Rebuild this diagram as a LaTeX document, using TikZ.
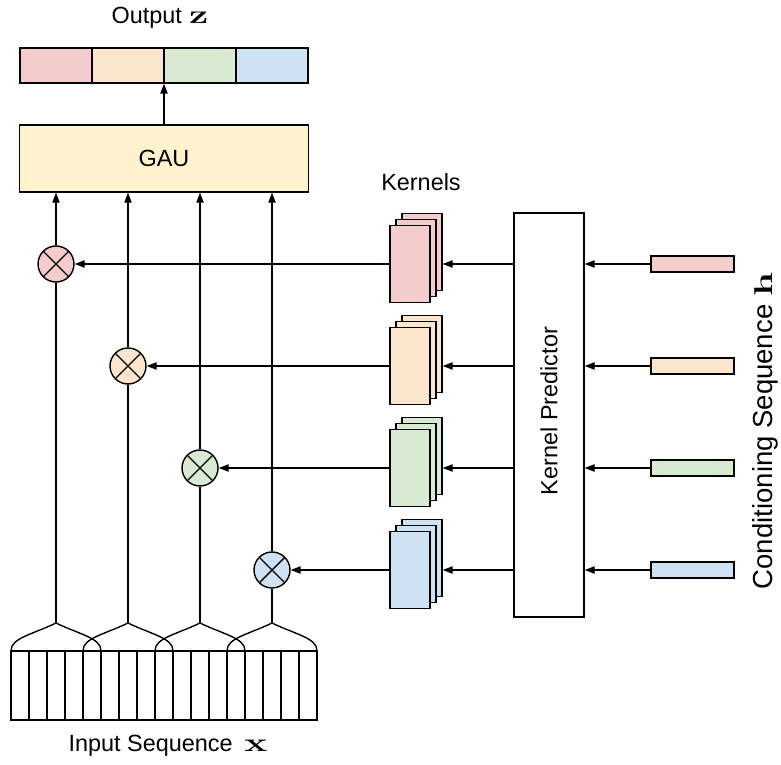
\documentclass[tikz,border=0pt]{standalone}
\usepackage{fontspec}
\setsansfont{Liberation Sans}
\newfontfamily\vecfont{Latin Modern Roman}
\usetikzlibrary{arrows.meta}

\definecolor{kpink}{HTML}{F4CCCC}
\definecolor{kpeach}{HTML}{FCE5CD}
\definecolor{kgreen}{HTML}{D9EAD3}
\definecolor{kblue}{HTML}{CFE2F3}
\definecolor{gauyellow}{HTML}{FFF2CC}

% bold vector names, set wide like the labels around them
\newcommand{\vecname}[1]{\scalebox{1.5}[1]{\vecfont\bfseries\fontsize{22}{26}\selectfont #1}}

\tikzset{
  box/.style={draw, inner sep=0pt},
  arr/.style={-{Triangle[length=0.3cm,width=0.22cm]}},
  mult/.style={circle, draw, minimum size=1.08cm, inner sep=0pt,
    path picture={\draw (path picture bounding box.north west) -- (path picture bounding box.south east)
                        (path picture bounding box.north east) -- (path picture bounding box.south west);}},
  kernel/.style={box, minimum width=1.2cm, minimum height=2.31cm},
  lbl/.style={font=\sffamily\fontsize{20}{24}\selectfont},
}

\begin{document}
\begin{tikzpicture}[x=0.03cm, y=-0.03cm, line width=1.2pt]
  \useasboundingbox (0,0) rectangle (781,765);

  % output z and the GAU block
  \foreach \i/\xm/\c in {1/56/kpink, 2/128/kpeach, 3/200/kgreen, 4/272/kblue}
    \node[box, fill=\c, minimum width=2.16cm, minimum height=1.05cm] (z\i) at (\xm,65.5) {};
  \node[lbl] (zlabel) at (160,18) {Output\hspace{0.3em}\vecname{z}};
  \node[box, lbl, fill=gauyellow, minimum width=8.67cm, minimum height=2.01cm] (gau) at (164,158.5) {GAU};
  \draw[arr] (gau.north) -- (gau.north |- z1.south);

  % kernel predictor
  \node[box, minimum width=2.1cm, minimum height=12.12cm] (kp) at (549,415) {};
  \node[lbl, rotate=90] (kptext) at (549,411) {Kernel Predictor};
  \node[lbl] (ktext) at (421,182) {Kernels};
  \node[lbl, font=\sffamily\fontsize{23.5}{28}\selectfont, rotate=90] (hlabel) at (765,431)
    {Conditioning Sequence \vecname{h}};

  % input sequence x
  \node[box, minimum width=9.18cm, minimum height=2.07cm] (xin) at (164,685.5) {};
  \foreach \j in {1,...,16}
    \draw ({11+18*\j},651) -- ({11+18*\j},720);
  \node[lbl] (xlabel) at (168,746) {Input Sequence\hspace{0.5em}\vecname{x}};

  % one row per kernel
  \foreach \i/\y/\xm/\c in {1/264/56/kpink, 2/366/128/kpeach, 3/468/200/kgreen, 4/570/272/kblue} {
    \node[box, fill=\c, minimum width=2.49cm, minimum height=0.48cm] (h\i) at (692.5,\y) {};
    \node[kernel, fill=\c] (kc\i) at (422,{\y-12}) {};
    \node[kernel, fill=\c] (kb\i) at (416,{\y-6}) {};
    \node[kernel, fill=\c] (ka\i) at (410,\y) {};
    \node[mult, fill=\c] (m\i) at (\xm,\y) {};
    \draw[arr] (h\i.west) -- (h\i.west -| kp.east);
    \draw[arr] (kp.west |- h\i.west) -- (kc\i.east |- h\i.west);
    \draw[arr] (ka\i.west) -- (m\i.east);
    % brace over the input cells
    \coordinate (b\i) at (\xm,623);
    \draw (b\i) -- (m\i.south);
    \draw[arr] (m\i.north) -- (m\i.north |- gau.south);
    \draw ({\xm-45},651) .. controls ({\xm-45},638) and ({\xm-25},635) .. (b\i)
          .. controls ({\xm+25},635) and ({\xm+45},638) .. ({\xm+45},651);
  }
\end{tikzpicture}
\end{document}
